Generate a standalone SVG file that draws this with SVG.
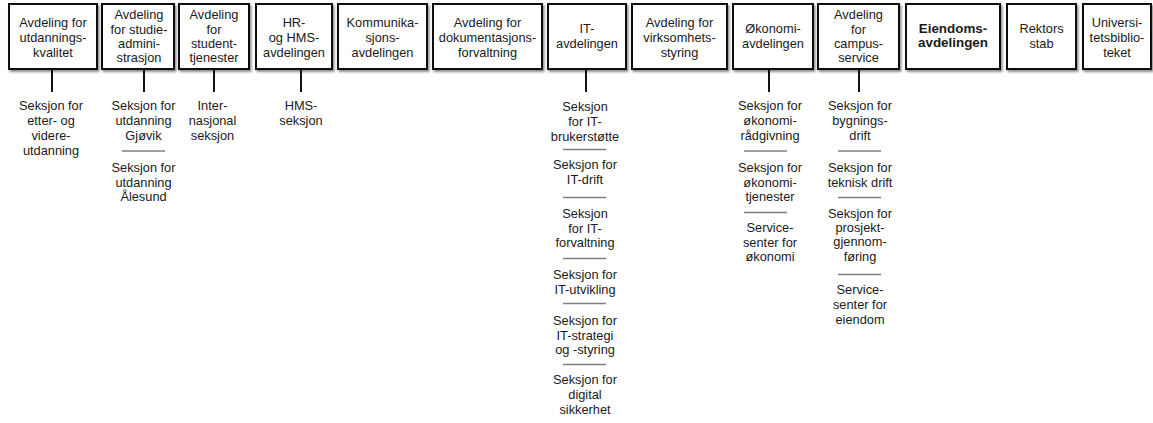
<svg xmlns="http://www.w3.org/2000/svg" width="1153" height="423" viewBox="0 0 1153 423">
<defs>
<filter id="sh" x="-10%" y="-10%" width="130%" height="130%">
<feDropShadow dx="1.5" dy="2" stdDeviation="1.2" flood-color="#000" flood-opacity="0.45"/>
</filter>
</defs>
<style>
.box{fill:#fff;stroke:#111;stroke-width:2;filter:url(#sh)}
text{font-family:"Liberation Sans",Arial,sans-serif;font-size:12.8px;fill:#1a1a1a;text-anchor:middle}
.b{font-weight:bold;font-size:13.4px}
.sep{stroke:#808080;stroke-width:1.5}
.con{stroke:#111;stroke-width:2}
</style>
<rect width="1153" height="423" fill="#fff"/>

<g id="avd-utdanningskvalitet"><rect class="box" x="9" y="4" width="88" height="65"/>
<text x="53" y="27">Avdeling  for</text><text x="53" y="42">utdannings-</text><text x="53" y="57">kvalitet</text></g>

<g id="avd-studieadministrasjon"><rect class="box" x="102" y="4" width="72" height="65"/>
<text x="139" y="19">Avdeling</text><text x="139" y="34">for studie-</text><text x="139" y="48">admini-</text><text x="139" y="62">strasjon</text></g>

<g id="avd-studenttjenester"><rect class="box" x="179" y="4" width="70" height="65"/>
<text x="214" y="19">Avdeling</text><text x="214" y="34">for</text><text x="214" y="48">student-</text><text x="214" y="62">tjenester</text></g>

<g id="hr-hms"><rect class="box" x="256" y="4" width="76" height="65"/>
<text x="294" y="27">HR-</text><text x="294" y="42">og HMS-</text><text x="294" y="57">avdelingen</text></g>

<g id="kommunikasjon"><rect class="box" x="338" y="4" width="89" height="65"/>
<text x="382.5" y="27">Kommunika-</text><text x="382.5" y="42">sjons-</text><text x="382.5" y="57">avdelingen</text></g>

<g id="dokumentasjonsforvaltning"><rect class="box" x="433" y="4" width="109" height="65"/>
<text x="487.5" y="27">Avdeling  for</text><text x="487.5" y="42">dokumentasjons-</text><text x="487.5" y="57">forvaltning</text></g>

<g id="it-avdelingen"><rect class="box" x="548" y="4" width="78" height="65"/>
<text x="587" y="33">IT-</text><text x="587" y="48">avdelingen</text></g>

<g id="virksomhetsstyring"><rect class="box" x="632" y="4" width="95" height="65"/>
<text x="679.5" y="27">Avdeling  for</text><text x="679.5" y="42">virksomhets-</text><text x="679.5" y="57">styring</text></g>

<g id="okonomiavdelingen"><rect class="box" x="733" y="4" width="80" height="65"/>
<text x="773" y="33">Økonomi-</text><text x="773" y="48">avdelingen</text></g>

<g id="campusservice"><rect class="box" x="818" y="4" width="81" height="65"/>
<text x="858.5" y="19">Avdeling</text><text x="858.5" y="34">for</text><text x="858.5" y="48">campus-</text><text x="858.5" y="62">service</text></g>

<g id="eiendomsavdelingen"><rect class="box" x="906" y="4" width="94" height="65"/>
<text class="b" x="953" y="33">Eiendoms-</text><text class="b" x="953" y="47">avdelingen</text></g>

<g id="rektors-stab"><rect class="box" x="1007" y="4" width="69" height="65"/>
<text x="1041.5" y="33">Rektors</text><text x="1041.5" y="48">stab</text></g>

<g id="universitetsbiblioteket"><rect class="box" x="1083" y="4" width="68" height="65"/>
<text x="1117" y="27">Universi-</text><text x="1117" y="42">tetsbiblio-</text><text x="1117" y="57">teket</text></g>

<g id="connectors">
<line class="con" x1="52" y1="69" x2="52" y2="92"/>
<line class="con" x1="144" y1="69" x2="144" y2="92"/>
<line class="con" x1="214" y1="69" x2="214" y2="92"/>
<line class="con" x1="301" y1="69" x2="301" y2="92"/>
<line class="con" x1="586" y1="69" x2="586" y2="92"/>
<line class="con" x1="769" y1="69" x2="769" y2="92"/>
<line class="con" x1="859" y1="69" x2="859" y2="92"/>
</g>

<g id="sek-utdanningskvalitet">
<text x="51" y="110">Seksjon  for</text><text x="51" y="125">etter-  og</text><text x="51" y="139.5">videre-</text><text x="51" y="154.5">utdanning</text>
</g>

<g id="sek-studieadministrasjon">
<text x="143.5" y="110">Seksjon  for</text><text x="143.5" y="125">utdanning</text><text x="143.5" y="139.5">Gjøvik</text>
<line class="sep" x1="122" y1="151" x2="165" y2="151"/>
<text x="143.5" y="172">Seksjon  for</text><text x="143.5" y="186.5">utdanning</text><text x="143.5" y="201">Ålesund</text>
</g>

<g id="sek-studenttjenester">
<text x="212.5" y="110">Inter-</text><text x="212.5" y="125">nasjonal</text><text x="212.5" y="139.5">seksjon</text>
</g>

<g id="sek-hms">
<text x="301" y="110">HMS-</text><text x="301" y="125">seksjon</text>
</g>

<g id="sek-it">
<text x="585" y="111">Seksjon</text><text x="585" y="126">for IT-</text><text x="585" y="140.5">brukerstøtte</text>
<line class="sep" x1="563" y1="149.5" x2="606" y2="149.5"/>
<text x="585" y="168.5">Seksjon  for</text><text x="585" y="183.5">IT-drift</text>
<line class="sep" x1="563" y1="197.5" x2="606" y2="197.5"/>
<text x="585" y="218">Seksjon</text><text x="585" y="232.5">for IT-</text><text x="585" y="247">forvaltning</text>
<line class="sep" x1="563" y1="258.5" x2="606" y2="258.5"/>
<text x="585" y="278.5">Seksjon  for</text><text x="585" y="293.5">IT-utvikling</text>
<line class="sep" x1="563" y1="303.5" x2="606" y2="303.5"/>
<text x="585" y="324.5">Seksjon  for</text><text x="585" y="339.5">IT-strategi</text><text x="585" y="353.5">og -styring</text>
<line class="sep" x1="563" y1="364.5" x2="606" y2="364.5"/>
<text x="585" y="383.5">Seksjon  for</text><text x="585" y="399">digital</text><text x="585" y="413.5">sikkerhet</text>
</g>

<g id="sek-okonomi">
<text x="770" y="110">Seksjon  for</text><text x="770" y="125">økonomi-</text><text x="770" y="139.5">rådgivning</text>
<line class="sep" x1="744" y1="151" x2="787" y2="151"/>
<text x="770" y="172">Seksjon  for</text><text x="770" y="187">økonomi-</text><text x="770" y="201">tjenester</text>
<line class="sep" x1="744" y1="212.5" x2="787" y2="212.5"/>
<text x="770" y="231.5">Service-</text><text x="770" y="247">senter for</text><text x="770" y="261">økonomi</text>
</g>

<g id="sek-campus">
<text x="860" y="110">Seksjon  for</text><text x="860" y="125">bygnings-</text><text x="860" y="139.5">drift</text>
<line class="sep" x1="838" y1="151" x2="881" y2="151"/>
<text x="860" y="172">Seksjon  for</text><text x="860" y="187">teknisk drift</text>
<line class="sep" x1="838" y1="197.5" x2="881" y2="197.5"/>
<text x="860" y="217.5">Seksjon  for</text><text x="860" y="232">prosjekt-</text><text x="860" y="246">gjennom-</text><text x="860" y="261">føring</text>
<line class="sep" x1="838" y1="274.5" x2="881" y2="274.5"/>
<text x="860" y="294">Service-</text><text x="860" y="308.5">senter for</text><text x="860" y="323.5">eiendom</text>
</g>
</svg>
